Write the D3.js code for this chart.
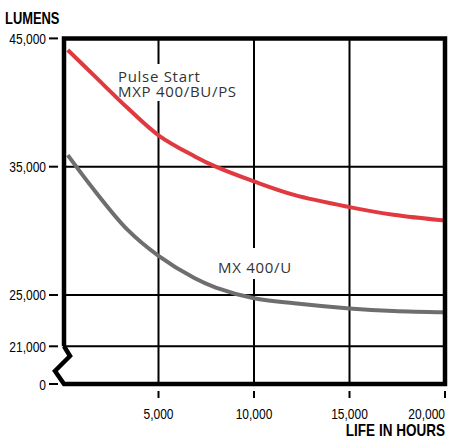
<!DOCTYPE html>
<html>
<head>
<meta charset="utf-8">
<script src="https://cdn.jsdelivr.net/npm/d3@7"></script>
<style>
  html, body { margin: 0; padding: 0; background: #fff; }
  svg { display: block; }
  .narrow { font-family: 'Liberation Sans', Arial, sans-serif; }
  .lbl { font-family: 'Open Sans', 'Noto Sans', sans-serif; }
</style>
</head>
<body>
<svg id="chart" width="449" height="439"></svg>
<script>
// ---- data ----
const hours    = [250, 1700, 3400, 5000, 6900, 8000, 10000, 12100, 15000, 17300, 20000];
const pulseMXP = [44100, 42000, 39550, 37450, 35800, 35000, 33850, 32800, 31850, 31250, 30800];
const mx400U   = [35900, 33050, 30050, 28050, 26300, 25580, 24750, 24350, 23950, 23750, 23650];
const yTicks   = [0, 21000, 25000, 35000, 45000];
const yGrid    = [21000, 25000, 35000];
const xTicks   = [5000, 10000, 15000, 20000];
const seriesNames = ["Pulse Start", "MXP 400/BU/PS", "MX 400/U"];

const svg = d3.select("#chart");
const x = d3.scaleLinear().domain([0, 20000]).range([63, 445]);
// broken axis: 0..21000 compressed, 21000..45000 linear
const y = d3.scaleLinear().domain([0, 21000, 45000]).range([384, 346.3, 38.4]);

const fmt = d3.format(",");
const SX = 0.8; // horizontal condensing for the condensed face

// gridlines
const g = svg.append("g");
g.selectAll("line.v").data(xTicks.slice(0, 3)).join("line")
  .attr("x1", d => x(d)).attr("x2", d => x(d))
  .attr("y1", y(45000)).attr("y2", y(0))
  .attr("stroke", "#000").attr("stroke-width", 2);
g.selectAll("line.h").data(yGrid).join("line")
  .attr("x1", x(0)).attr("x2", x(20000))
  .attr("y1", d => y(d)).attr("y2", d => y(d))
  .attr("stroke", "#000").attr("stroke-width", 2);

// white masks behind labels
svg.append("rect").attr("x", 116).attr("y", 64).attr("width", 130).attr("height", 37).attr("fill", "#fff");
svg.append("rect").attr("x", 216).attr("y", 248).attr("width", 80).attr("height", 31).attr("fill", "#fff");

// curves
const line = d3.line().curve(d3.curveCatmullRom.alpha(0.5));
svg.append("path")
  .attr("d", line(hours.map((h, i) => [x(h), y(pulseMXP[i])])))
  .attr("fill", "none").attr("stroke", "#e03a40").attr("stroke-width", 4);
svg.append("path")
  .attr("d", line(hours.map((h, i) => [x(h), y(mx400U[i])])))
  .attr("fill", "none").attr("stroke", "#6e6e6e").attr("stroke-width", 4);

// frame with axis break
const fx0 = x(0) + 1, fx1 = x(20000), fyT = y(45000), fyB = y(0), fyBr = y(21000);
svg.append("path")
  .attr("d", `M${fx0},${fyBr} L${fx0},${fyT} L${fx1},${fyT} L${fx1},${fyB} L${fx0},${fyB} L${fx0 - 9},${fyB - 13} L${fx0 + 6},${fyB - 28} L${fx0},${fyBr}`)
  .attr("fill", "none").attr("stroke", "#000").attr("stroke-width", 4.5)
  .attr("stroke-linejoin", "miter");

function narrowText(sel, px, py, size, anchor, bold, sx) {
  return sel.append("text").attr("class", "narrow")
    .attr("transform", `translate(${px},${py}) scale(${sx || SX},1)`)
    .attr("text-anchor", anchor).attr("font-size", size)
    .attr("font-weight", bold ? "bold" : "normal").attr("fill", "#000");
}

// y ticks
const yt = svg.append("g");
yt.selectAll("line").data(yTicks).join("line")
  .attr("x1", 49).attr("x2", 58)
  .attr("y1", d => y(d)).attr("y2", d => y(d))
  .attr("stroke", "#000").attr("stroke-width", 2);
yTicks.forEach(d => narrowText(yt, 46, y(d) + 5.5, 15, "end", false).text(fmt(d)));

// x ticks
const xt = svg.append("g");
xt.selectAll("line").data(xTicks).join("line")
  .attr("x1", d => x(d)).attr("x2", d => x(d))
  .attr("y1", 391).attr("y2", 398)
  .attr("stroke", "#000").attr("stroke-width", 2);
xTicks.forEach(d => narrowText(xt, x(d), 418.5, 15, d === 20000 ? "end" : "middle", false).text(fmt(d)));

// axis titles
narrowText(svg, 5, 23.5, 17, "start", true, 0.76).text("LUMENS");
narrowText(svg, 445, 436, 16.5, "end", true, 0.82).text("LIFE IN HOURS");

// series labels
const lbls = [[seriesNames[0], 118, 81.5], [seriesNames[1], 118, 97], [seriesNames[2], 218, 273]];
svg.selectAll("text.lbl").data(lbls).join("text").attr("class", "lbl")
  .attr("x", d => d[1]).attr("y", d => d[2])
  .attr("font-size", 15).attr("letter-spacing", 0.7).attr("fill", "#333")
  .text(d => d[0]);
</script>
</body>
</html>
